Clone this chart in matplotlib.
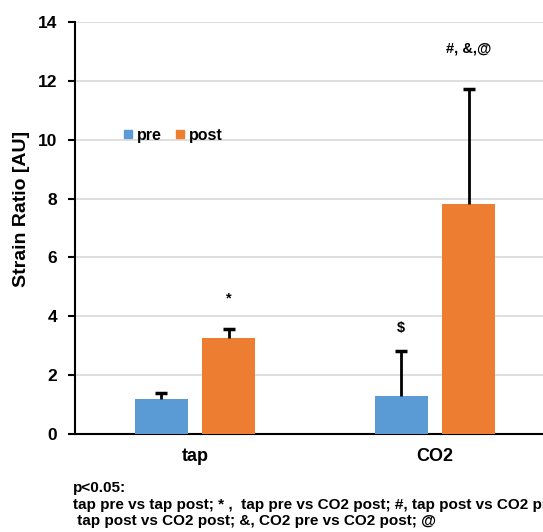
import numpy as np
import matplotlib
matplotlib.use("Agg")
import matplotlib.pyplot as plt
from matplotlib.lines import Line2D

plt.rcParams['font.family'] = ['Liberation Sans', 'DejaVu Sans']
plt.rcParams['font.weight'] = 'bold'

# donnees
categories = ["tap", "CO2"]
pre_vals = [1.19, 1.29]
post_vals = [3.26, 7.82]
pre_err = [0.20, 1.53]
post_err = [0.31, 3.91]
pre_marks = ["", "$"]
post_marks = ["*", "#, &,@"]
series = ["pre", "post"]
yticks = [0, 2, 4, 6, 8, 10, 12, 14]

bleu = "#5B9BD5"
orange = "#ED7D31"

fig = plt.figure(figsize=(5.43, 5.32), dpi=100)
ax = fig.add_axes([0.138, 0.184, 0.884, 0.775])

x = np.arange(len(categories))
w = 0.22
off = 0.14

ax.bar(x - off, pre_vals, width=w, color=bleu, zorder=3)
ax.bar(x + off, post_vals, width=w, color=orange, zorder=3)


def barres_erreur(xs, ys, errs):
    # barre d'erreur seulement vers le haut, sans capuchon en bas
    _, caps, _ = ax.errorbar(xs, ys, yerr=[np.zeros(len(ys)), errs], fmt="none",
                             ecolor="black", elinewidth=2, capsize=4, capthick=2.5,
                             zorder=4)
    caps[0].set_visible(False)


barres_erreur(x - off, pre_vals, pre_err)
barres_erreur(x + off, post_vals, post_err)

# annotations de significativite
for i in range(len(categories)):
    if pre_marks[i]:
        ax.text(x[i] - off, pre_vals[i] + pre_err[i] + 0.8, pre_marks[i],
                ha="center", va="center", fontsize=10.5, fontweight="bold")
    if post_marks[i]:
        ax.text(x[i] + off, post_vals[i] + post_err[i] + 1.05, post_marks[i],
                ha="center", va="center", fontsize=10.5, fontweight="bold")
ax.texts[-1].set_position((x[1] + off, 13.1))

ax.set_xlim(-0.5, 1.5)
ax.set_ylim(0, 14)
ax.set_yticks(yticks)
ax.set_yticklabels([str(t) for t in yticks], fontsize=12.5, fontweight="bold")
ax.set_xticks(x)
ax.set_xticklabels(categories, fontsize=13, fontweight="bold")
ax.tick_params(axis="x", length=0, pad=10)
ax.tick_params(axis="y", length=5, width=1.5, direction="out", pad=8)

ax.grid(axis="y", color="#D9D9D9", linewidth=1.2, zorder=0)
for s in ["top", "right"]:
    ax.spines[s].set_visible(False)
ax.spines["left"].set_linewidth(1.5)
ax.spines["bottom"].set_linewidth(1.5)

ax.set_ylabel("Strain Ratio [AU]", fontsize=14, fontweight="bold")
ax.yaxis.set_label_coords(-0.094, 0.546)

handles = [Line2D([], [], marker="s", linestyle="none", color=bleu, markersize=6),
           Line2D([], [], marker="s", linestyle="none", color=orange, markersize=6)]
ax.legend(handles, series, loc="center left", bbox_to_anchor=(0.07, 0.725),
          ncol=2, frameon=False, handlelength=0.6, handletextpad=0.3,
          columnspacing=0.8, prop={"weight": "bold", "size": 11.5})

# note en bas de figure (coupee a droite comme dans l'original)
fig.text(0.134, 0.083, "p<0.05:", fontsize=11, fontweight="bold", va="center")
fig.text(0.134, 0.051, "tap pre vs tap post; * ,  tap pre vs CO2 post; #, tap post vs CO2 pre; $",
         fontsize=11, fontweight="bold", va="center")
fig.text(0.134, 0.021, " tap post vs CO2 post; &, CO2 pre vs CO2 post; @",
         fontsize=11, fontweight="bold", va="center")

fig.savefig("out.png", dpi=100)
